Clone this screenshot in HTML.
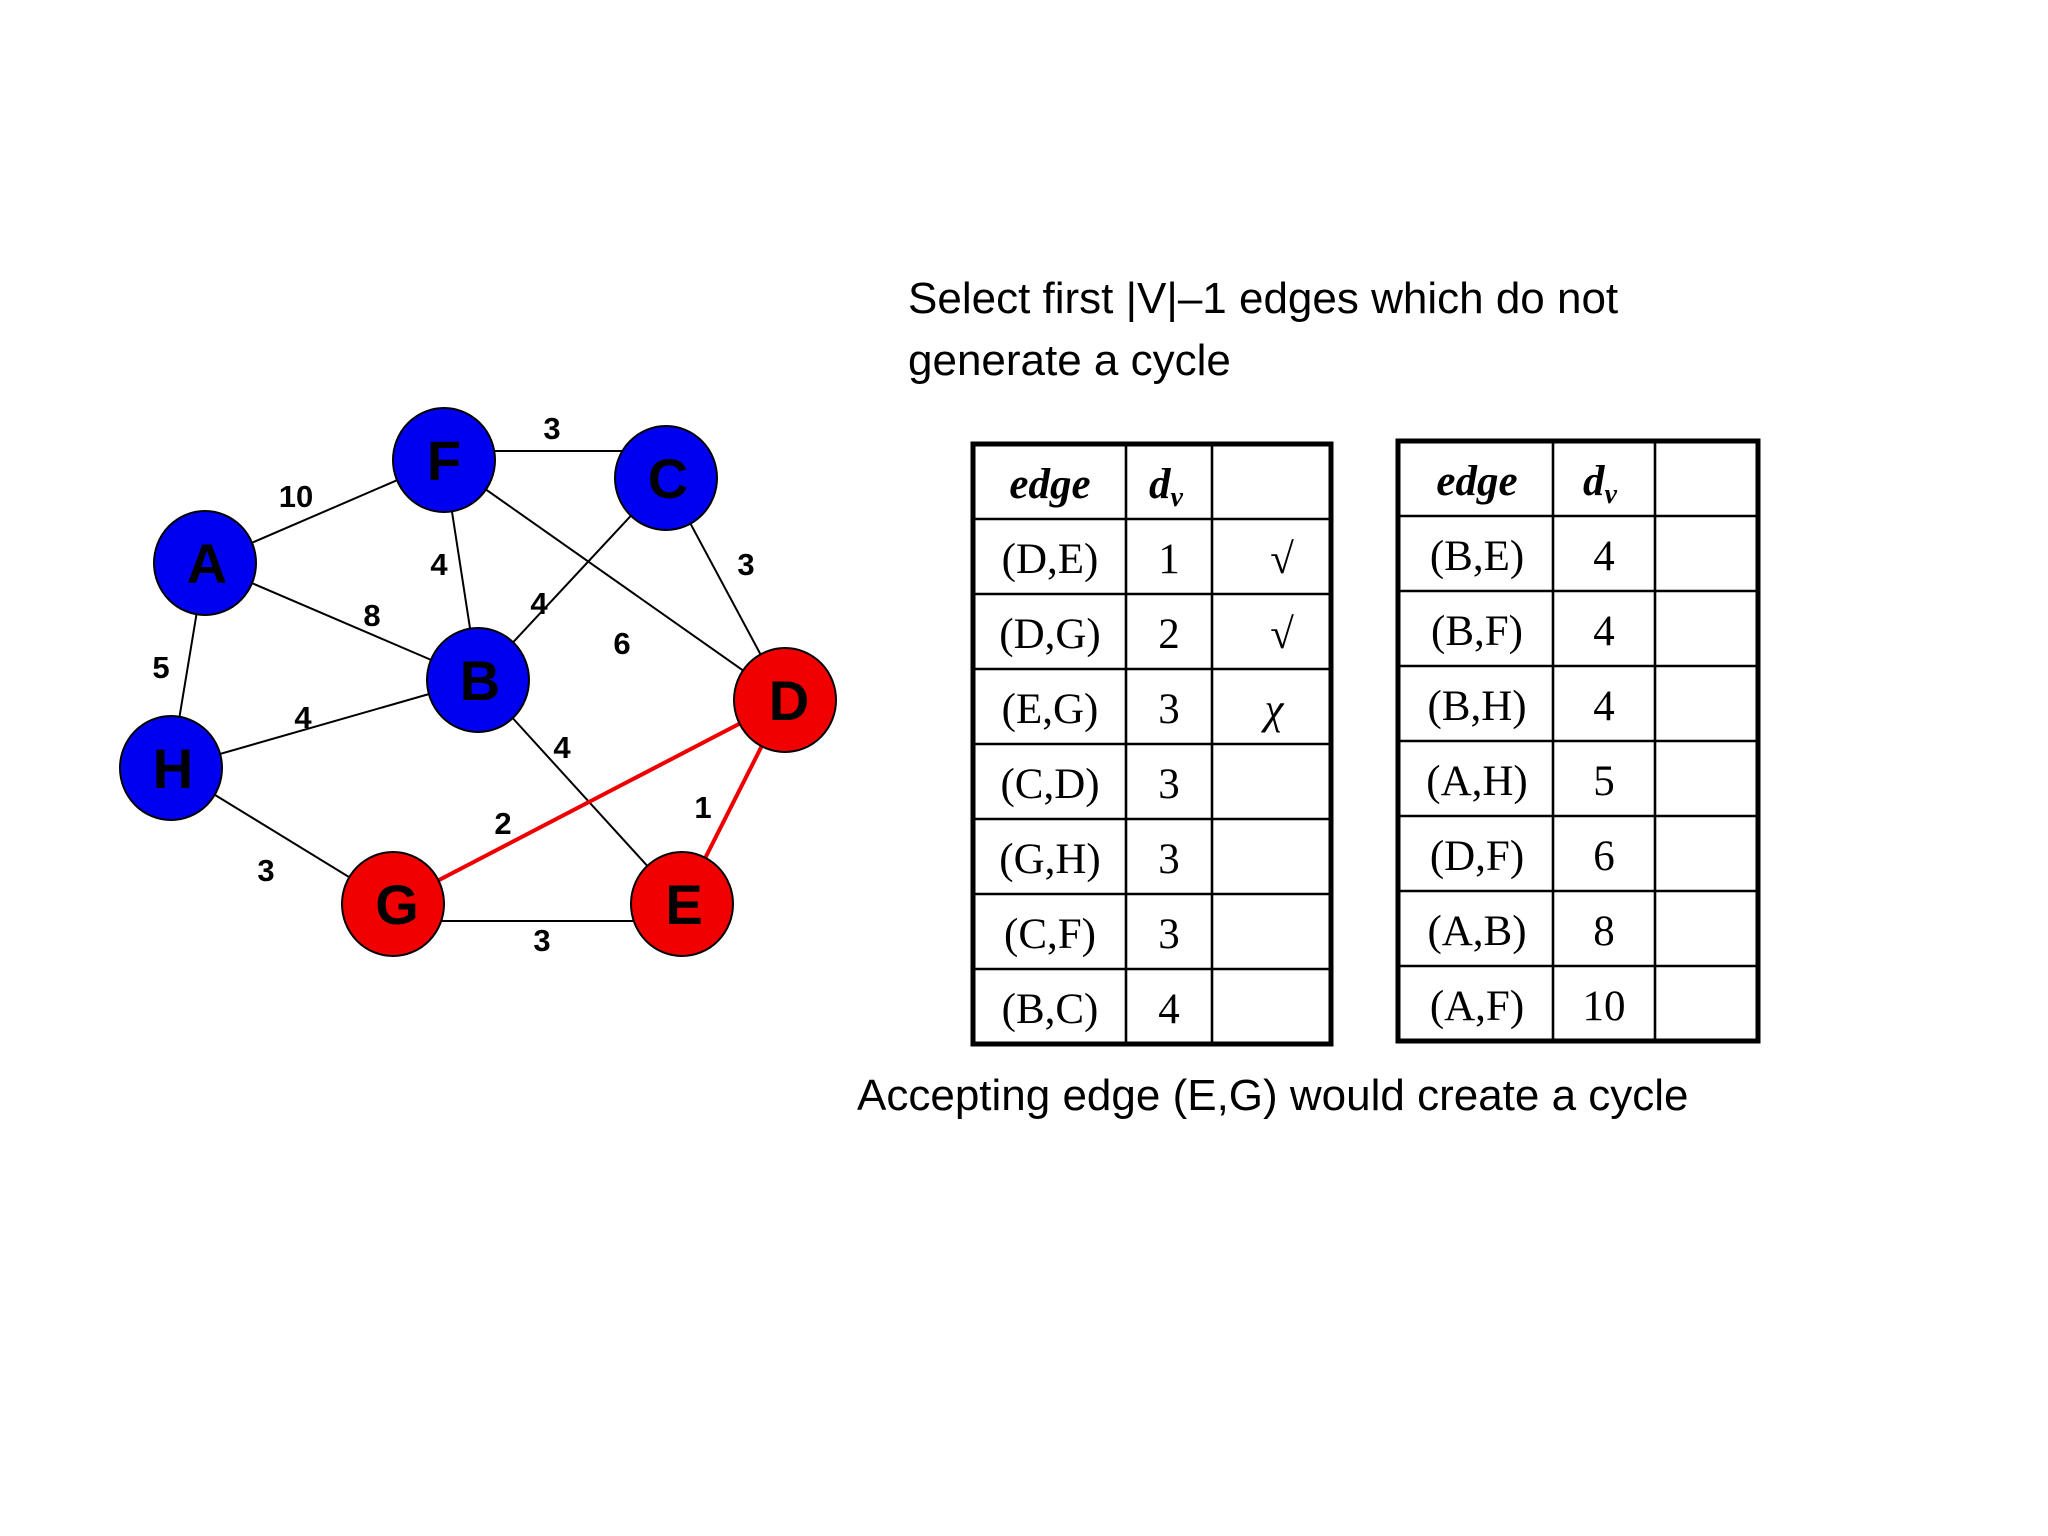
<!DOCTYPE html>
<html><head><meta charset="utf-8"><style>
html,body{margin:0;padding:0;background:#fff}
svg{display:block}
.lbl{font-family:"Liberation Sans",sans-serif;font-weight:bold;font-size:31px;fill:#000;text-anchor:middle}
.nd{font-family:"Liberation Sans",sans-serif;font-weight:bold;font-size:56px;fill:#000;text-anchor:middle}
.t{font-family:"Liberation Serif",serif;font-size:43px;fill:#000;text-anchor:middle}
.h{font-family:"Liberation Serif",serif;font-size:43px;font-weight:bold;font-style:italic;fill:#000;text-anchor:middle}
.s{font-family:"Liberation Sans",sans-serif;font-size:44px;fill:#000}
</style></head><body>
<svg width="2048" height="1536" viewBox="0 0 2048 1536" xmlns="http://www.w3.org/2000/svg">
<g stroke="#000" stroke-width="2">
<line x1="444" y1="451" x2="666" y2="451"/>
<line x1="205" y1="563" x2="444" y2="460"/>
<line x1="444" y1="460" x2="478" y2="680"/>
<line x1="444" y1="460" x2="785" y2="700"/>
<line x1="205" y1="563" x2="478" y2="680"/>
<line x1="666" y1="478" x2="478" y2="680"/>
<line x1="666" y1="478" x2="785" y2="700"/>
<line x1="205" y1="563" x2="171" y2="768"/>
<line x1="171" y1="768" x2="478" y2="680"/>
<line x1="478" y1="680" x2="682" y2="904"/>
<line x1="171" y1="768" x2="393" y2="904"/>
<line x1="393" y1="921" x2="682" y2="921"/>
</g>
<g stroke="#e00" stroke-width="4">
<line x1="393" y1="904" x2="785" y2="700"/>
<line x1="785" y1="700" x2="682" y2="904"/>
</g>
<g stroke="#000" stroke-width="2">
<ellipse cx="444" cy="460" rx="51" ry="52" fill="#0000f0"/>
<ellipse cx="666" cy="478" rx="51" ry="52" fill="#0000f0"/>
<ellipse cx="205" cy="563" rx="51" ry="52" fill="#0000f0"/>
<ellipse cx="478" cy="680" rx="51" ry="52" fill="#0000f0"/>
<ellipse cx="171" cy="768" rx="51" ry="52" fill="#0000f0"/>
<ellipse cx="785" cy="700" rx="51" ry="52" fill="#f00000"/>
<ellipse cx="393" cy="904" rx="51" ry="52" fill="#f00000"/>
<ellipse cx="682" cy="904" rx="51" ry="52" fill="#f00000"/>
</g>
<text class="nd" x="444" y="480">F</text>
<text class="nd" x="668" y="498">C</text>
<text class="nd" x="207" y="583">A</text>
<text class="nd" x="480" y="700">B</text>
<text class="nd" x="789" y="720">D</text>
<text class="nd" x="173" y="788">H</text>
<text class="nd" x="397" y="924">G</text>
<text class="nd" x="684" y="924">E</text>
<text class="lbl" x="552" y="439">3</text>
<text class="lbl" x="296" y="507">10</text>
<text class="lbl" x="439" y="575">4</text>
<text class="lbl" x="372" y="626">8</text>
<text class="lbl" x="539" y="614">4</text>
<text class="lbl" x="622" y="654">6</text>
<text class="lbl" x="746" y="575">3</text>
<text class="lbl" x="161" y="678">5</text>
<text class="lbl" x="303" y="728">4</text>
<text class="lbl" x="562" y="758">4</text>
<text class="lbl" x="503" y="834">2</text>
<text class="lbl" x="703" y="818">1</text>
<text class="lbl" x="266" y="881">3</text>
<text class="lbl" x="542" y="951">3</text>
<text class="s" x="908" y="313">Select first |V|–1 edges which do not</text>
<text class="s" x="908" y="375">generate a cycle</text>
<text class="s" x="857" y="1110">Accepting edge (E,G) would create a cycle</text>
<!-- table 1 -->
<g stroke="#000" fill="none">
<rect x="973" y="444" width="358" height="600" stroke-width="5"/>
<g stroke-width="2.6">
<line x1="1126" y1="444" x2="1126" y2="1044"/><line x1="1212" y1="444" x2="1212" y2="1044"/>
<line x1="973" y1="519" x2="1331" y2="519"/><line x1="973" y1="594" x2="1331" y2="594"/>
<line x1="973" y1="669" x2="1331" y2="669"/><line x1="973" y1="744" x2="1331" y2="744"/>
<line x1="973" y1="819" x2="1331" y2="819"/><line x1="973" y1="894" x2="1331" y2="894"/>
<line x1="973" y1="969" x2="1331" y2="969"/>
</g>
<rect x="1398" y="441" width="360" height="600" stroke-width="5"/>
<g stroke-width="2.6">
<line x1="1553" y1="441" x2="1553" y2="1041"/><line x1="1655" y1="441" x2="1655" y2="1041"/>
<line x1="1398" y1="516" x2="1758" y2="516"/><line x1="1398" y1="591" x2="1758" y2="591"/>
<line x1="1398" y1="666" x2="1758" y2="666"/><line x1="1398" y1="741" x2="1758" y2="741"/>
<line x1="1398" y1="816" x2="1758" y2="816"/><line x1="1398" y1="891" x2="1758" y2="891"/>
<line x1="1398" y1="966" x2="1758" y2="966"/>
</g>
</g>
<text class="h" x="1050" y="498">edge</text>
<text class="h" x="1166" y="498">d<tspan font-size="28" dy="8">v</tspan></text>
<text class="t" x="1050" y="573">(D,E)</text><text class="t" x="1169" y="573">1</text><text class="t" x="1282" y="573" font-style="italic">√</text>
<text class="t" x="1050" y="648">(D,G)</text><text class="t" x="1169" y="648">2</text><text class="t" x="1282" y="648" font-style="italic">√</text>
<text class="t" x="1050" y="723">(E,G)</text><text class="t" x="1169" y="723">3</text><text class="t" x="1274" y="723" font-style="italic">χ</text>
<text class="t" x="1050" y="798">(C,D)</text><text class="t" x="1169" y="798">3</text>
<text class="t" x="1050" y="873">(G,H)</text><text class="t" x="1169" y="873">3</text>
<text class="t" x="1050" y="948">(C,F)</text><text class="t" x="1169" y="948">3</text>
<text class="t" x="1050" y="1023">(B,C)</text><text class="t" x="1169" y="1023">4</text>
<text class="h" x="1477" y="495">edge</text>
<text class="h" x="1600" y="495">d<tspan font-size="28" dy="8">v</tspan></text>
<text class="t" x="1477" y="570">(B,E)</text><text class="t" x="1604" y="570">4</text>
<text class="t" x="1477" y="645">(B,F)</text><text class="t" x="1604" y="645">4</text>
<text class="t" x="1477" y="720">(B,H)</text><text class="t" x="1604" y="720">4</text>
<text class="t" x="1477" y="795">(A,H)</text><text class="t" x="1604" y="795">5</text>
<text class="t" x="1477" y="870">(D,F)</text><text class="t" x="1604" y="870">6</text>
<text class="t" x="1477" y="945">(A,B)</text><text class="t" x="1604" y="945">8</text>
<text class="t" x="1477" y="1020">(A,F)</text><text class="t" x="1604" y="1020">10</text>
</svg>
</body></html>
